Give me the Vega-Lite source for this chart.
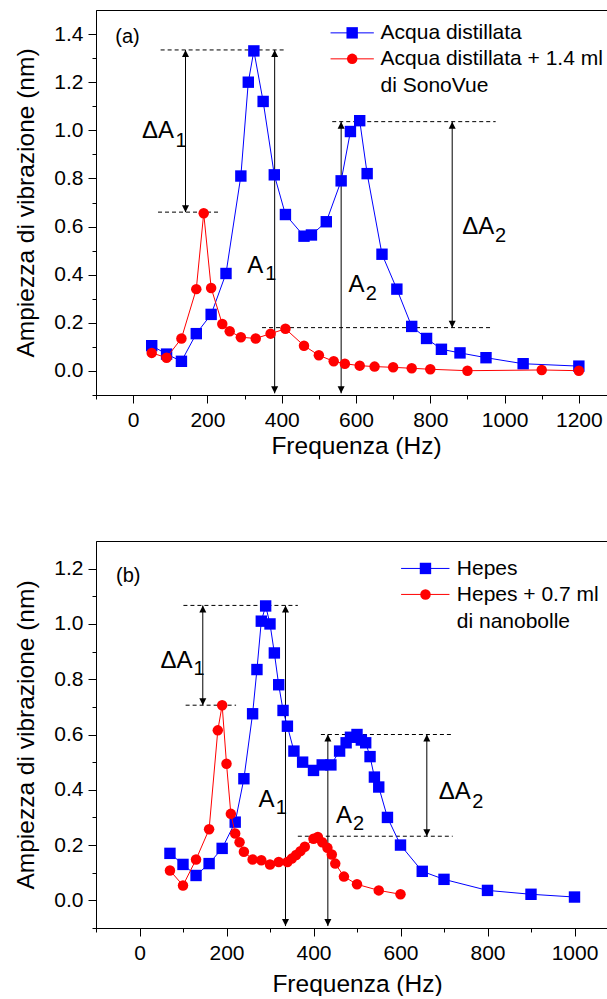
{
  "$schema": "https://vega.github.io/schema/vega-lite/v6.json",
  "background": "white",
  "padding": {"left": 13, "top": 9, "right": 0, "bottom": 0},
  "config": {
    "font": "Liberation Sans",
    "view": {"stroke": "black", "strokeWidth": 1},
    "concat": {"spacing": 82},
    "axis": {
      "grid": false, "domainColor": "black", "tickColor": "black", "labelColor": "black", "titleColor": "black",
      "labelFont": "Liberation Sans", "titleFont": "Liberation Sans", "labelFontSize": 21, "titleFontSize": 24.5,
      "titleFontWeight": "normal", "labelOverlap": false, "labelFlush": false, "tickWidth": 1, "domainWidth": 1, "tickSize": 8
    },
    "text": {"font": "Liberation Sans", "color": "black"}
  },
  "datasets": {
    "a_curve": [
      {"serie": "b", "x": 50, "y": 0.105}, {"serie": "b", "x": 90, "y": 0.07}, {"serie": "b", "x": 130, "y": 0.04},
      {"serie": "b", "x": 170, "y": 0.155}, {"serie": "b", "x": 210, "y": 0.235}, {"serie": "b", "x": 250, "y": 0.405},
      {"serie": "b", "x": 290, "y": 0.81}, {"serie": "b", "x": 310, "y": 1.2}, {"serie": "b", "x": 325, "y": 1.33},
      {"serie": "b", "x": 350, "y": 1.12}, {"serie": "b", "x": 380, "y": 0.815}, {"serie": "b", "x": 410, "y": 0.65},
      {"serie": "b", "x": 460, "y": 0.56}, {"serie": "b", "x": 480, "y": 0.565}, {"serie": "b", "x": 520, "y": 0.62},
      {"serie": "b", "x": 560, "y": 0.79}, {"serie": "b", "x": 585, "y": 0.995}, {"serie": "b", "x": 610, "y": 1.04},
      {"serie": "b", "x": 630, "y": 0.82}, {"serie": "b", "x": 670, "y": 0.485}, {"serie": "b", "x": 710, "y": 0.34},
      {"serie": "b", "x": 750, "y": 0.185}, {"serie": "b", "x": 790, "y": 0.135}, {"serie": "b", "x": 830, "y": 0.09},
      {"serie": "b", "x": 880, "y": 0.075}, {"serie": "b", "x": 950, "y": 0.055}, {"serie": "b", "x": 1050, "y": 0.03},
      {"serie": "b", "x": 1200, "y": 0.02},
      {"serie": "r", "x": 50, "y": 0.075}, {"serie": "r", "x": 90, "y": 0.055}, {"serie": "r", "x": 130, "y": 0.135},
      {"serie": "r", "x": 170, "y": 0.34}, {"serie": "r", "x": 190, "y": 0.655}, {"serie": "r", "x": 210, "y": 0.345},
      {"serie": "r", "x": 240, "y": 0.195}, {"serie": "r", "x": 260, "y": 0.165}, {"serie": "r", "x": 290, "y": 0.14},
      {"serie": "r", "x": 330, "y": 0.135}, {"serie": "r", "x": 370, "y": 0.155}, {"serie": "r", "x": 410, "y": 0.175},
      {"serie": "r", "x": 460, "y": 0.105}, {"serie": "r", "x": 500, "y": 0.065}, {"serie": "r", "x": 540, "y": 0.04},
      {"serie": "r", "x": 570, "y": 0.03}, {"serie": "r", "x": 610, "y": 0.022}, {"serie": "r", "x": 650, "y": 0.018},
      {"serie": "r", "x": 700, "y": 0.015}, {"serie": "r", "x": 750, "y": 0.011}, {"serie": "r", "x": 800, "y": 0.007},
      {"serie": "r", "x": 900, "y": 0.001}, {"serie": "r", "x": 1100, "y": 0.004}, {"serie": "r", "x": 1200, "y": 0.001}
    ],
    "a_dash": [
      {"x": 74, "x2": 406, "y": 1.334},
      {"x": 536, "x2": 976, "y": 1.036},
      {"x": 67, "x2": 230, "y": 0.66},
      {"x": 347, "x2": 967, "y": 0.18}
    ],
    "a_arrow": [
      {"x": 141, "y": 1.334, "y2": 0.66},
      {"x": 381, "y": 1.334, "y2": -0.093},
      {"x": 560, "y": 1.036, "y2": -0.093},
      {"x": 859, "y": 1.036, "y2": 0.18}
    ],
    "a_text": [
      {"t": "ΔA", "kind": "main", "x": 24, "y": 0.967},
      {"t": "1", "kind": "sub", "x": 114, "y": 0.932},
      {"t": "A", "kind": "main", "x": 307, "y": 0.406},
      {"t": "1", "kind": "sub", "x": 356, "y": 0.376},
      {"t": "A", "kind": "main", "x": 580, "y": 0.33},
      {"t": "2", "kind": "sub", "x": 626, "y": 0.295},
      {"t": "ΔA", "kind": "main", "x": 886, "y": 0.568},
      {"t": "2", "kind": "sub", "x": 974, "y": 0.537},
      {"t": "(a)", "kind": "panel", "x": -48, "y": 1.363},
      {"t": "Acqua distillata", "kind": "legend", "x": 666, "y": 1.38},
      {"t": "Acqua distillata + 1.4 ml", "kind": "legend", "x": 666, "y": 1.272},
      {"t": "di SonoVue", "kind": "legend", "x": 666, "y": 1.161}
    ],
    "a_leg": [
      {"serie": "b", "x": 531.5, "x2": 648, "y": 1.405},
      {"serie": "r", "x": 531.5, "x2": 648, "y": 1.297}
    ],
    "a_legpt": [
      {"serie": "b", "x": 589.7, "y": 1.405},
      {"serie": "r", "x": 589.7, "y": 1.297}
    ],
    "b_curve": [
      {"serie": "b", "x": 70, "y": 0.17}, {"serie": "b", "x": 100, "y": 0.13}, {"serie": "b", "x": 130, "y": 0.09},
      {"serie": "b", "x": 160, "y": 0.133}, {"serie": "b", "x": 190, "y": 0.188}, {"serie": "b", "x": 220, "y": 0.283},
      {"serie": "b", "x": 240, "y": 0.44}, {"serie": "b", "x": 260, "y": 0.675}, {"serie": "b", "x": 270, "y": 0.835},
      {"serie": "b", "x": 280, "y": 1.01}, {"serie": "b", "x": 290, "y": 1.065}, {"serie": "b", "x": 300, "y": 1.0},
      {"serie": "b", "x": 310, "y": 0.895}, {"serie": "b", "x": 320, "y": 0.78}, {"serie": "b", "x": 330, "y": 0.687},
      {"serie": "b", "x": 340, "y": 0.63}, {"serie": "b", "x": 355, "y": 0.54}, {"serie": "b", "x": 375, "y": 0.5},
      {"serie": "b", "x": 400, "y": 0.47}, {"serie": "b", "x": 420, "y": 0.49}, {"serie": "b", "x": 440, "y": 0.49},
      {"serie": "b", "x": 460, "y": 0.54}, {"serie": "b", "x": 475, "y": 0.57}, {"serie": "b", "x": 485, "y": 0.59},
      {"serie": "b", "x": 500, "y": 0.6}, {"serie": "b", "x": 510, "y": 0.58}, {"serie": "b", "x": 520, "y": 0.57},
      {"serie": "b", "x": 530, "y": 0.52}, {"serie": "b", "x": 540, "y": 0.446}, {"serie": "b", "x": 550, "y": 0.41},
      {"serie": "b", "x": 570, "y": 0.3}, {"serie": "b", "x": 600, "y": 0.2}, {"serie": "b", "x": 650, "y": 0.105},
      {"serie": "b", "x": 700, "y": 0.076}, {"serie": "b", "x": 800, "y": 0.036}, {"serie": "b", "x": 900, "y": 0.022},
      {"serie": "b", "x": 1000, "y": 0.012},
      {"serie": "r", "x": 70, "y": 0.108}, {"serie": "r", "x": 100, "y": 0.054}, {"serie": "r", "x": 130, "y": 0.148},
      {"serie": "r", "x": 160, "y": 0.257}, {"serie": "r", "x": 180, "y": 0.615}, {"serie": "r", "x": 190, "y": 0.706},
      {"serie": "r", "x": 200, "y": 0.494}, {"serie": "r", "x": 210, "y": 0.313}, {"serie": "r", "x": 220, "y": 0.242},
      {"serie": "r", "x": 230, "y": 0.21}, {"serie": "r", "x": 240, "y": 0.176}, {"serie": "r", "x": 260, "y": 0.148},
      {"serie": "r", "x": 280, "y": 0.145}, {"serie": "r", "x": 300, "y": 0.13}, {"serie": "r", "x": 320, "y": 0.139},
      {"serie": "r", "x": 340, "y": 0.139}, {"serie": "r", "x": 350, "y": 0.151}, {"serie": "r", "x": 360, "y": 0.164},
      {"serie": "r", "x": 370, "y": 0.178}, {"serie": "r", "x": 380, "y": 0.194}, {"serie": "r", "x": 400, "y": 0.223},
      {"serie": "r", "x": 410, "y": 0.229}, {"serie": "r", "x": 420, "y": 0.21}, {"serie": "r", "x": 432, "y": 0.19},
      {"serie": "r", "x": 442, "y": 0.166}, {"serie": "r", "x": 450, "y": 0.133}, {"serie": "r", "x": 470, "y": 0.086},
      {"serie": "r", "x": 500, "y": 0.058}, {"serie": "r", "x": 550, "y": 0.036}, {"serie": "r", "x": 600, "y": 0.022}
    ],
    "b_dash": [
      {"x": 101, "x2": 364, "y": 1.067},
      {"x": 106, "x2": 222, "y": 0.706},
      {"x": 417, "x2": 720, "y": 0.6},
      {"x": 364, "x2": 720, "y": 0.232}
    ],
    "b_arrow": [
      {"x": 145.5, "y": 1.067, "y2": 0.706},
      {"x": 335.6, "y": 1.067, "y2": -0.093},
      {"x": 433, "y": 0.6, "y2": -0.093},
      {"x": 660.5, "y": 0.6, "y2": 0.232}
    ],
    "b_text": [
      {"t": "ΔA", "kind": "main", "x": 48.3, "y": 0.842},
      {"t": "1", "kind": "sub", "x": 124, "y": 0.817},
      {"t": "A", "kind": "main", "x": 273.6, "y": 0.339},
      {"t": "1", "kind": "sub", "x": 313, "y": 0.311},
      {"t": "A", "kind": "main", "x": 452, "y": 0.281},
      {"t": "2", "kind": "sub", "x": 491, "y": 0.253},
      {"t": "ΔA", "kind": "main", "x": 688, "y": 0.365},
      {"t": "2", "kind": "sub", "x": 765, "y": 0.335},
      {"t": "(b)", "kind": "panel", "x": -54, "y": 1.152},
      {"t": "Hepes", "kind": "legend", "x": 729.4, "y": 1.176},
      {"t": "Hepes + 0.7 ml", "kind": "legend", "x": 729.4, "y": 1.082},
      {"t": "di nanobolle", "kind": "legend", "x": 729.4, "y": 0.986}
    ],
    "b_leg": [
      {"serie": "b", "x": 601.4, "x2": 712.6, "y": 1.2007},
      {"serie": "r", "x": 601.4, "x2": 712.6, "y": 1.1067}
    ],
    "b_legpt": [
      {"serie": "b", "x": 657.4, "y": 1.2007},
      {"serie": "r", "x": 657.4, "y": 1.1067}
    ]
  },
  "vconcat": [
    {
      "width": 520,
      "height": 385,
      "encoding": {
        "x": {
          "field": "x", "type": "quantitative", "title": "Frequenza (Hz)",
          "scale": {"domain": [-100, 1300], "nice": false, "zero": false},
          "axis": {
            "values": [-100, 0, 100, 200, 300, 400, 500, 600, 700, 800, 900, 1000, 1100, 1200, 1300],
            "format": "d",
            "labelExpr": "datum.value % 200 === 0 ? datum.label : ''",
            "tickDash": {"condition": {"test": "datum.value % 200 !== 0", "value": [4, 8]}, "value": [8, 0]},
            "labelPadding": 6, "titlePadding": 4
          }
        },
        "y": {
          "field": "y", "type": "quantitative", "title": "Ampiezza di vibrazione (nm)",
          "scale": {"domain": [-0.1, 1.5], "nice": false, "zero": false},
          "axis": {
            "values": [-0.1, 0, 0.1, 0.2, 0.3, 0.4, 0.5, 0.6, 0.7, 0.8, 0.9, 1.0, 1.1, 1.2, 1.3, 1.4],
            "labelExpr": "abs(round(datum.value * 10)) % 2 === 0 ? format(datum.value, '.1f') : ''",
            "tickDash": {"condition": {"test": "abs(round(datum.value * 10)) % 2 !== 0", "value": [4, 8]}, "value": [8, 0]},
            "labelPadding": 5, "titlePadding": 15
          }
        }
      },
      "layer": [
        {"data": {"name": "a_dash"}, "mark": {"type": "rule", "color": "black", "strokeWidth": 1, "strokeDash": [4, 3]}, "encoding": {"x2": {"field": "x2"}}},
        {"data": {"name": "a_arrow"}, "mark": {"type": "rule", "color": "black", "strokeWidth": 1}, "encoding": {"y2": {"field": "y2"}}},
        {"data": {"name": "a_arrow"}, "transform": [{"fold": ["y", "y2"], "as": ["end", "y"]}, {"filter": "datum.end === 'y'"}], "mark": {"type": "point", "shape": "M0,0L-0.5,1L0.5,1Z", "filled": true, "color": "black", "size": 196, "opacity": 1}, "encoding": {}},
        {"data": {"name": "a_arrow"}, "transform": [{"fold": ["y", "y2"], "as": ["end", "y"]}, {"filter": "datum.end === 'y2'"}], "mark": {"type": "point", "shape": "M0,0L-0.5,-1L0.5,-1Z", "filled": true, "color": "black", "size": 196, "opacity": 1}, "encoding": {}},
        {"data": {"name": "a_curve"}, "transform": [{"filter": "datum.serie === 'b'"}], "mark": {"type": "line", "color": "#0000ff", "strokeWidth": 1}, "encoding": {}},
        {"data": {"name": "a_curve"}, "transform": [{"filter": "datum.serie === 'b'"}], "mark": {"type": "point", "shape": "square", "filled": true, "color": "#0000ff", "size": 130, "opacity": 1}, "encoding": {}},
        {"data": {"name": "a_curve"}, "transform": [{"filter": "datum.serie === 'r'"}], "mark": {"type": "line", "color": "#ff0000", "strokeWidth": 1}, "encoding": {}},
        {"data": {"name": "a_curve"}, "transform": [{"filter": "datum.serie === 'r'"}], "mark": {"type": "point", "shape": "circle", "filled": true, "color": "#ff0000", "size": 110, "opacity": 1}, "encoding": {}},
        {"data": {"name": "a_leg"}, "mark": {"type": "rule", "strokeWidth": 1}, "encoding": {"x2": {"field": "x2"}, "color": {"field": "serie", "type": "nominal", "scale": {"domain": ["b", "r"], "range": ["#0000ff", "#ff0000"]}, "legend": null}}},
        {"data": {"name": "a_legpt"}, "mark": {"type": "point", "filled": true, "opacity": 1}, "encoding": {
          "color": {"field": "serie", "type": "nominal", "scale": {"domain": ["b", "r"], "range": ["#0000ff", "#ff0000"]}, "legend": null},
          "shape": {"field": "serie", "type": "nominal", "scale": {"domain": ["b", "r"], "range": ["square", "circle"]}, "legend": null},
          "size": {"field": "serie", "type": "ordinal", "scale": {"domain": ["b", "r"], "range": [130, 110]}, "legend": null}}},
        {"data": {"name": "a_text"}, "transform": [{"filter": "datum.kind === 'main'"}], "mark": {"type": "text", "align": "left", "baseline": "alphabetic", "fontSize": 24}, "encoding": {"text": {"field": "t", "type": "nominal"}}},
        {"data": {"name": "a_text"}, "transform": [{"filter": "datum.kind === 'sub'"}], "mark": {"type": "text", "align": "left", "baseline": "alphabetic", "fontSize": 20}, "encoding": {"text": {"field": "t", "type": "nominal"}}},
        {"data": {"name": "a_text"}, "transform": [{"filter": "datum.kind === 'panel'"}], "mark": {"type": "text", "align": "left", "baseline": "alphabetic", "fontSize": 20}, "encoding": {"text": {"field": "t", "type": "nominal"}}},
        {"data": {"name": "a_text"}, "transform": [{"filter": "datum.kind === 'legend'"}], "mark": {"type": "text", "align": "left", "baseline": "alphabetic", "fontSize": 21}, "encoding": {"text": {"field": "t", "type": "nominal"}}}
      ]
    },
    {
      "width": 522,
      "height": 387,
      "encoding": {
        "x": {
          "field": "x", "type": "quantitative", "title": "Frequenza (Hz)",
          "scale": {"domain": [-100, 1100], "nice": false, "zero": false},
          "axis": {
            "values": [-100, 0, 100, 200, 300, 400, 500, 600, 700, 800, 900, 1000, 1100],
            "format": "d",
            "labelExpr": "datum.value % 200 === 0 ? datum.label : ''",
            "tickDash": {"condition": {"test": "datum.value % 200 !== 0", "value": [4, 8]}, "value": [8, 0]},
            "labelPadding": 6, "titlePadding": 9
          }
        },
        "y": {
          "field": "y", "type": "quantitative", "title": "Ampiezza di vibrazione (nm)",
          "scale": {"domain": [-0.1, 1.3], "nice": false, "zero": false},
          "axis": {
            "values": [-0.1, 0, 0.1, 0.2, 0.3, 0.4, 0.5, 0.6, 0.7, 0.8, 0.9, 1.0, 1.1, 1.2],
            "labelExpr": "abs(round(datum.value * 10)) % 2 === 0 ? format(datum.value, '.1f') : ''",
            "tickDash": {"condition": {"test": "abs(round(datum.value * 10)) % 2 !== 0", "value": [4, 8]}, "value": [8, 0]},
            "labelPadding": 5, "titlePadding": 15
          }
        }
      },
      "layer": [
        {"data": {"name": "b_dash"}, "mark": {"type": "rule", "color": "black", "strokeWidth": 1, "strokeDash": [4, 3]}, "encoding": {"x2": {"field": "x2"}}},
        {"data": {"name": "b_arrow"}, "mark": {"type": "rule", "color": "black", "strokeWidth": 1}, "encoding": {"y2": {"field": "y2"}}},
        {"data": {"name": "b_arrow"}, "transform": [{"fold": ["y", "y2"], "as": ["end", "y"]}, {"filter": "datum.end === 'y'"}], "mark": {"type": "point", "shape": "M0,0L-0.5,1L0.5,1Z", "filled": true, "color": "black", "size": 196, "opacity": 1}, "encoding": {}},
        {"data": {"name": "b_arrow"}, "transform": [{"fold": ["y", "y2"], "as": ["end", "y"]}, {"filter": "datum.end === 'y2'"}], "mark": {"type": "point", "shape": "M0,0L-0.5,-1L0.5,-1Z", "filled": true, "color": "black", "size": 196, "opacity": 1}, "encoding": {}},
        {"data": {"name": "b_curve"}, "transform": [{"filter": "datum.serie === 'b'"}], "mark": {"type": "line", "color": "#0000ff", "strokeWidth": 1}, "encoding": {}},
        {"data": {"name": "b_curve"}, "transform": [{"filter": "datum.serie === 'b'"}], "mark": {"type": "point", "shape": "square", "filled": true, "color": "#0000ff", "size": 130, "opacity": 1}, "encoding": {}},
        {"data": {"name": "b_curve"}, "transform": [{"filter": "datum.serie === 'r'"}], "mark": {"type": "line", "color": "#ff0000", "strokeWidth": 1}, "encoding": {}},
        {"data": {"name": "b_curve"}, "transform": [{"filter": "datum.serie === 'r'"}], "mark": {"type": "point", "shape": "circle", "filled": true, "color": "#ff0000", "size": 110, "opacity": 1}, "encoding": {}},
        {"data": {"name": "b_leg"}, "mark": {"type": "rule", "strokeWidth": 1}, "encoding": {"x2": {"field": "x2"}, "color": {"field": "serie", "type": "nominal", "scale": {"domain": ["b", "r"], "range": ["#0000ff", "#ff0000"]}, "legend": null}}},
        {"data": {"name": "b_legpt"}, "mark": {"type": "point", "filled": true, "opacity": 1}, "encoding": {
          "color": {"field": "serie", "type": "nominal", "scale": {"domain": ["b", "r"], "range": ["#0000ff", "#ff0000"]}, "legend": null},
          "shape": {"field": "serie", "type": "nominal", "scale": {"domain": ["b", "r"], "range": ["square", "circle"]}, "legend": null},
          "size": {"field": "serie", "type": "ordinal", "scale": {"domain": ["b", "r"], "range": [130, 110]}, "legend": null}}},
        {"data": {"name": "b_text"}, "transform": [{"filter": "datum.kind === 'main'"}], "mark": {"type": "text", "align": "left", "baseline": "alphabetic", "fontSize": 24}, "encoding": {"text": {"field": "t", "type": "nominal"}}},
        {"data": {"name": "b_text"}, "transform": [{"filter": "datum.kind === 'sub'"}], "mark": {"type": "text", "align": "left", "baseline": "alphabetic", "fontSize": 20}, "encoding": {"text": {"field": "t", "type": "nominal"}}},
        {"data": {"name": "b_text"}, "transform": [{"filter": "datum.kind === 'panel'"}], "mark": {"type": "text", "align": "left", "baseline": "alphabetic", "fontSize": 20}, "encoding": {"text": {"field": "t", "type": "nominal"}}},
        {"data": {"name": "b_text"}, "transform": [{"filter": "datum.kind === 'legend'"}], "mark": {"type": "text", "align": "left", "baseline": "alphabetic", "fontSize": 21}, "encoding": {"text": {"field": "t", "type": "nominal"}}}
      ]
    }
  ]
}
